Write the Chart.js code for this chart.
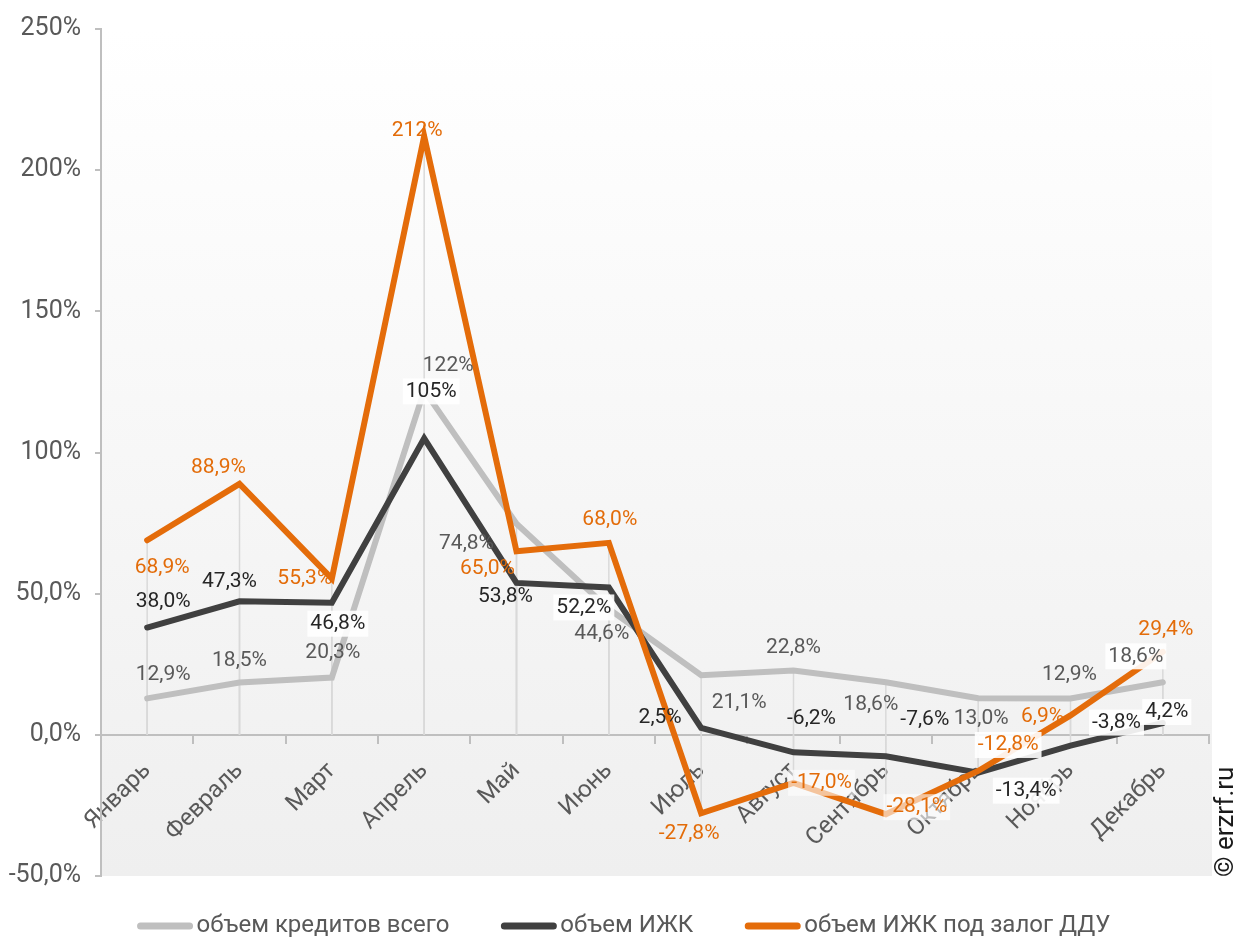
<!DOCTYPE html>
<html>
<head>
<meta charset="utf-8">
<script src="https://cdn.jsdelivr.net/npm/chart.js@4.4.1/dist/chart.umd.min.js"></script>
<style>
  html, body { margin: 0; padding: 0; background: #fff; }
  #wrap { width: 1240px; height: 938px; }
</style>
</head>
<body>
<div id="wrap"><canvas id="grafico"></canvas></div>
<script>
const months = ['Январь', 'Февраль', 'Март', 'Апрель', 'Май', 'Июнь', 'Июль', 'Август', 'Сентябрь', 'Октябрь', 'Ноябрь', 'Декабрь'];
const seriesNames = ['объем кредитов всего', 'объем ИЖК', 'объем ИЖК под залог ДДУ'];
const totalLoans = [12.9, 18.5, 20.3, 122, 74.8, 44.6, 21.1, 22.8, 18.6, 13.0, 12.9, 18.6];
const mortgageLoans = [38.0, 47.3, 46.8, 105, 53.8, 52.2, 2.5, -6.2, -7.6, -13.4, -3.8, 4.2];
const dduLoans = [68.9, 88.9, 55.3, 212, 65.0, 68.0, -27.8, -17.0, -28.1, -12.8, 6.9, 29.4];
const yTickValues = [-50, 0, 50, 100, 150, 200, 250];
const yTickLabels = ['-50,0%', '0,0%', '50,0%', '100%', '150%', '200%', '250%'];

// label offsets from each point: [dx, dy, white background alpha]
const labelOffsets = [
    [[16,-24,0],[0,-22,0],[1,-25,0],[24,-25,0],[-50,20,0],[-7,25,0],[38,27,0],[0,-23,0],[-15,22,0],[3,21,0],[-1,-24,0],[-27,-26,0.9]],
    [[16,-26,0],[-10,-20,0],[6,21,0.9],[7,-47,0.9],[-11,14,0],[-25,20,0.9],[-41,-10,0],[18,-34,0],[39,-37,0],[48,18,0.9],[46,-23,0.9],[4,-11,0.9]],
    [[15,27,0],[-21,-16,0],[-27,0,0],[-7,-6,0],[-29,17,0],[1,-23,0],[-12,20,0],[28,0,0.6],[31,-7,0.6],[30,-26,0.9],[-28,1,0],[3,-22,0]]
];
const labelColors = ['#595959', '#262626', '#e36c09'];

const fmt = v => Math.abs(v) >= 100 ? Math.round(v) + '%' : v.toFixed(1).replace('.', ',') + '%';

const backgroundPlugin = {
    id: 'fondo',
    beforeDraw(chart) {
        const { ctx, chartArea: a } = chart;
        const g = ctx.createLinearGradient(0, a.top, 0, a.bottom);
        g.addColorStop(0, '#ffffff');
        g.addColorStop(1, '#efefef');
        ctx.save();
        ctx.fillStyle = g;
        ctx.fillRect(a.left, a.top, a.right - a.left + 3, a.bottom - a.top);
        ctx.restore();
    }
};

const dropLinesPlugin = {
    id: 'dropLines',
    beforeDatasetsDraw(chart) {
        const { ctx, scales } = chart;
        const zero = scales.y.getPixelForValue(0);
        ctx.save();
        ctx.strokeStyle = '#d9d9d9';
        ctx.lineWidth = 1.5;
        chart.data.datasets.forEach((ds, d) => {
            chart.getDatasetMeta(d).data.forEach(pt => {
                ctx.beginPath();
                ctx.moveTo(pt.x, pt.y);
                ctx.lineTo(pt.x, zero);
                ctx.stroke();
            });
        });
        ctx.restore();
    }
};

const labelsPlugin = {
    id: 'etiquetas',
    afterDatasetsDraw(chart) {
        const { ctx } = chart;
        ctx.save();
        ctx.font = '21px Roboto';
        ctx.textAlign = 'center';
        ctx.textBaseline = 'middle';
        chart.data.datasets.forEach((ds, d) => {
            chart.getDatasetMeta(d).data.forEach((pt, i) => {
                const [dx, dy, bg] = labelOffsets[d][i];
                const text = fmt(ds.data[i]);
                const x = pt.x + dx, y = pt.y + dy;
                if (bg > 0) {
                    const w = ctx.measureText(text).width;
                    ctx.fillStyle = 'rgba(255,255,255,' + bg + ')';
                    ctx.fillRect(x - w / 2 - 3, y - 13, w + 6, 26);
                }
                ctx.fillStyle = labelColors[d];
                ctx.fillText(text, x, y);
            });
        });
        ctx.restore();
    }
};

const legendPlugin = {
    id: 'leyenda',
    afterDraw(chart) {
        const { ctx, width } = chart;
        const lineW = 55, gap = 4, spacing = 52, y = 926;
        ctx.save();
        ctx.font = '24px Roboto';
        ctx.textBaseline = 'middle';
        const widths = seriesNames.map(t => lineW + gap + ctx.measureText(t).width);
        const total = widths.reduce((a, b) => a + b, 0) + spacing * (widths.length - 1);
        let x = (width - total) / 2 + 4;
        chart.data.datasets.forEach((ds, d) => {
            ctx.strokeStyle = ds.borderColor;
            ctx.lineWidth = 7;
            ctx.lineCap = 'round';
            ctx.beginPath();
            ctx.moveTo(x + 3, y);
            ctx.lineTo(x + lineW - 3, y);
            ctx.stroke();
            ctx.fillStyle = '#595959';
            ctx.fillText(ds.label, x + lineW + gap, y);
            x += widths[d] + spacing;
        });
        // copyright
        ctx.translate(1233, 877);
        ctx.rotate(-Math.PI / 2);
        ctx.fillStyle = '#1a1a1a';
        ctx.font = '26px Roboto';
        ctx.textAlign = 'left';
        ctx.textBaseline = 'alphabetic';
        ctx.fillText('© erzrf.ru', 0, 0);
        ctx.restore();
    }
};

const data = {
    labels: months,
    datasets: [
        { label: seriesNames[0], data: totalLoans, borderColor: '#bfbfbf', backgroundColor: '#bfbfbf', order: 3 },
        { label: seriesNames[1], data: mortgageLoans, borderColor: '#404040', backgroundColor: '#404040', order: 2 },
        { label: seriesNames[2], data: dduLoans, borderColor: '#e46c0a', backgroundColor: '#e46c0a', order: 1 }
    ]
};

const config = {
    type: 'line',
    data: data,
    options: {
        responsive: true,
        maintainAspectRatio: false,
        animation: false,
        layout: { padding: { left: 0, right: 31, top: 27, bottom: 62 } },
        elements: {
            line: { borderWidth: 6, tension: 0, borderCapStyle: 'round', borderJoinStyle: 'miter' },
            point: { radius: 0, hoverRadius: 0 }
        },
        plugins: {
            legend: { display: false },
            tooltip: { enabled: false }
        },
        scales: {
            x: {
                position: { y: 0 },
                offset: true,
                afterFit: s => { s.height = 0; },
                grid: { offset: true, drawOnChartArea: false, tickLength: 8, color: '#bfbfbf', lineWidth: 2 },
                border: { color: '#bfbfbf', width: 2 },
                ticks: {
                    minRotation: 45, maxRotation: 45, autoSkip: false, padding: 14,
                    color: '#595959', font: { family: 'Roboto', size: 24 }
                }
            },
            y: {
                min: -50,
                max: 250,
                afterFit: s => { s.width = 101; },
                afterBuildTicks: s => { s.ticks = yTickValues.map(v => ({ value: v })); },
                grid: { drawOnChartArea: false, tickLength: 6, color: '#bfbfbf', lineWidth: 2 },
                border: { color: '#bfbfbf', width: 2 },
                ticks: {
                    padding: 14,
                    color: '#595959',
                    font: { family: 'Roboto', size: 25 },
                    callback: v => yTickLabels[yTickValues.indexOf(v)]
                }
            }
        }
    },
    plugins: [backgroundPlugin, dropLinesPlugin, labelsPlugin, legendPlugin]
};

const myChart = new Chart(document.getElementById('grafico'), config);
</script>
</body>
</html>
